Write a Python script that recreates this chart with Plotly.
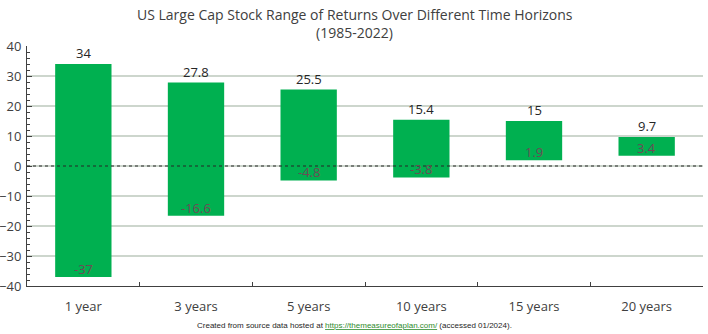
import plotly.graph_objects as go

categories = ["1 year", "3 years", "5 years", "10 years", "15 years", "20 years"]
high_values = [34, 27.8, 25.5, 15.4, 15, 9.7]
low_values = [-37, -16.6, -4.8, -3.8, 1.9, 3.4]
y_ticks = [-40, -30, -20, -10, 0, 10, 20, 30, 40]

GREEN = "#00B050"
FONT = "Open Sans, Noto Sans, sans-serif"

fig = go.Figure()
fig.add_trace(go.Bar(
    x=categories,
    y=[h - l for h, l in zip(high_values, low_values)],
    base=low_values,
    marker=dict(color=GREEN, line=dict(width=0)),
    width=0.5,
    hoverinfo="skip",
))

annotations = []
for c, h, l in zip(categories, high_values, low_values):
    annotations.append(dict(x=c, y=h, text=f"{h:g}", showarrow=False, yanchor="bottom",
                            yshift=0, font=dict(family=FONT, size=13, color="#262626")))
    annotations.append(dict(x=c, y=l, text=f"{l:g}", showarrow=False, yanchor="bottom",
                            yshift=-3, font=dict(family=FONT, size=13, color="#6e4b55")))

annotations.append(dict(xref="paper", yref="paper", x=0.485, y=1.133, xanchor="center", yanchor="middle",
                        showarrow=False, text="US Large Cap Stock Range of Returns Over Different Time Horizons",
                        font=dict(family=FONT, size=14, color="#404040")))
annotations.append(dict(xref="paper", yref="paper", x=0.485, y=1.058, xanchor="center", yanchor="middle",
                        showarrow=False, text="(1985-2022)",
                        font=dict(family=FONT, size=14, color="#404040")))

annotations.append(dict(
    xref="paper", yref="paper", x=0.485, y=-0.165, xanchor="center", yanchor="middle",
    showarrow=False,
    text=("Created from source data hosted at "
          "<span style='color:#2E8B2E'><u>https://themeasureofaplan.com/</u></span> (accessed 01/2024)."),
    font=dict(family="Liberation Sans Narrow, Liberation Sans, sans-serif", size=8, color="#262626"),
))

fig.update_layout(
    width=708, height=334, autosize=False,
    margin=dict(l=27, r=5, t=46, b=48),
    paper_bgcolor="white", plot_bgcolor="white",
    showlegend=False,
    annotations=annotations,
    shapes=[dict(type="line", xref="paper", yref="y", x0=0, x1=1, y0=0, y1=0,
                 line=dict(color="#262626", width=1.2, dash="dot"), layer="above")],
    xaxis=dict(
        showgrid=False, showline=True, linecolor="#404040", linewidth=1,
        ticks="inside", ticklen=4, tickcolor="#404040", tickson="boundaries",
        ticklabelstandoff=8, automargin=False,
        tickfont=dict(family=FONT, size=13, color="#404040"),
        range=[-0.5, 5.5],
    ),
    yaxis=dict(
        range=[-40, 40], tickvals=y_ticks, showgrid=True, gridcolor="#cdd6cd", gridwidth=1.5,
        zeroline=False, showline=True, linecolor="#404040", linewidth=1,
        ticks="inside", ticklen=5, tickcolor="#404040", automargin=False,
        ticklabelstandoff=2,
        minor=dict(dtick=2, ticks="inside", ticklen=3, tickcolor="#404040", showgrid=False),
        tickfont=dict(family=FONT, size=13, color="#404040"),
    ),
)

fig.write_html("out.html", config={"displayModeBar": False, "staticPlot": True},
               post_script="document.body.style.margin='0';document.body.style.overflow='hidden';")
